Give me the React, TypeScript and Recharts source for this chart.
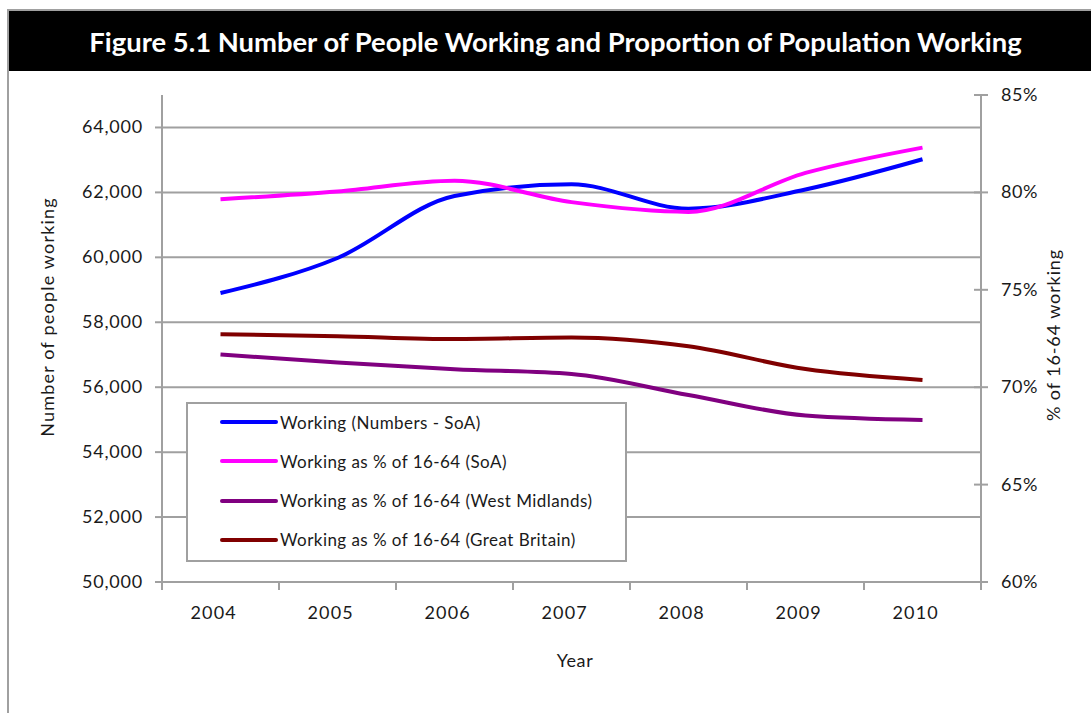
import React from 'react';
import { LineChart, Line, XAxis, YAxis, CartesianGrid, Legend } from 'recharts';

const years = [2004, 2005, 2006, 2007, 2008, 2009, 2010];
const workingNumbersSoA = [58900, 59980, 61890, 62250, 61500, 62090, 63020];
const workingPctSoA = [79.65, 80.05, 80.6, 79.5, 79.0, 81.0, 82.3];
const workingPctWestMidlands = [71.68, 71.27, 70.92, 70.68, 69.6, 68.55, 68.32];
const workingPctGreatBritain = [72.72, 72.62, 72.47, 72.55, 72.1, 70.93, 70.37];

const leftTicks = [50000, 52000, 54000, 56000, 58000, 60000, 62000, 64000];
const rightTicks = [60, 65, 70, 75, 80, 85];
const yearBoundaries = [2003.5, 2004.5, 2005.5, 2006.5, 2007.5, 2008.5, 2009.5, 2010.5];

const seriesNames = [
  'Working (Numbers - SoA)',
  'Working as % of 16-64 (SoA)',
  'Working as % of 16-64 (West Midlands)',
  'Working as % of 16-64 (Great Britain)',
];
const seriesColors = ['#0000FF', '#FF00FF', '#800080', '#800000'];

const data = years.map((year, i) => ({
  year,
  numbers: workingNumbersSoA[i],
  pctSoA: workingPctSoA[i],
  pctWM: workingPctWestMidlands[i],
  pctGB: workingPctGreatBritain[i],
}));

const W = 1091;
const H = 713;
const FONT = 'Lato, "Open Sans", sans-serif';
const TEXT = '#1a1a1a';
const AXIS = '#a0a0a0';
const PLOT_LEFT = 162;
const PLOT_RIGHT = 981;
const HALF_STEP = (PLOT_RIGHT - PLOT_LEFT) / yearBoundaries.length / 2 + 0.5;

const XTick = (props: any) => {
  const { x, y, payload } = props;
  const v = payload.value;
  if (v > 2010) return null;
  return (
    <text x={x + HALF_STEP} y={y + 27} textAnchor="middle" fontFamily={FONT} fontSize={18} letterSpacing={1.2} fill={TEXT}>
      {Math.round(v + 0.5)}
    </text>
  );
};

const LeftTick = (props: any) => {
  const { x, y, payload } = props;
  return (
    <text x={x} y={y + 6} textAnchor="end" fontFamily={FONT} fontSize={18} letterSpacing={0.8} fill={TEXT}>
      {Number(payload.value).toLocaleString('en-US')}
    </text>
  );
};

const RightTick = (props: any) => {
  const { x, y, payload } = props;
  return (
    <g>
      <line x1={x - 7} x2={x + 7} y1={y} y2={y} stroke={AXIS} strokeWidth={2} />
      <text x={x + 20} y={y + 6} textAnchor="start" fontFamily={FONT} fontSize={18} letterSpacing={0.6} fill={TEXT}>
        {payload.value}%
      </text>
    </g>
  );
};

const GridLine = (p: any) => {
  if (Math.abs(p.y1 - p.y) < 1) return <g key={p.key} />;
  return <line key={p.key} x1={p.x1} x2={p.x2} y1={p.y1} y2={p.y2} stroke={AXIS} strokeWidth={2} />;
};

const LegendContent = () => (
  <div
    style={{
      width: 441,
      height: 160,
      boxSizing: 'border-box',
      border: `2px solid ${AXIS}`,
      background: '#fff',
      position: 'relative',
    }}
  >
    {seriesNames.map((name, i) => (
      <div
        key={name}
        style={{
          position: 'absolute',
          left: 32,
          top: 18 + i * 39.3 - 12,
          height: 24,
          display: 'flex',
          alignItems: 'center',
          whiteSpace: 'nowrap',
        }}
      >
        <svg width={58} height={8} style={{ display: 'block' }}>
          <line x1={2} x2={56} y1={4} y2={4} stroke={seriesColors[i]} strokeWidth={4} strokeLinecap="round" />
        </svg>
        <span
          style={{
            marginLeft: 2,
            fontFamily: FONT,
            fontSize: 17,
            color: TEXT,
            letterSpacing: 0.45,
          }}
        >
          {name}
        </span>
      </div>
    ))}
  </div>
);

export default function App() {
  return (
    <div style={{ position: 'absolute', left: 0, top: 0, width: W, height: H, background: '#fff', overflow: 'hidden' }}>
      <div style={{ position: 'absolute', left: 0, top: 0 }}>
        <LineChart width={W} height={H} data={data} margin={{ top: 95, right: 30, bottom: 91, left: 62 }}>
          <CartesianGrid yAxisId="left" vertical={false} stroke={AXIS} strokeWidth={2} horizontal={GridLine} />
          <XAxis
            dataKey="year"
            type="number"
            domain={[2003.5, 2010.5]}
            ticks={yearBoundaries}
            height={40}
            axisLine={{ stroke: AXIS, strokeWidth: 2 }}
            tickLine={{ stroke: AXIS, strokeWidth: 2 }}
            tickSize={8}
            tickMargin={2}
            tick={<XTick />}
            interval={0}
            label={() => (
              <text x={575} y={667} textAnchor="middle" fontFamily={FONT} fontSize={18} letterSpacing={0.6} fill={TEXT}>
                Year
              </text>
            )}
          />
          <YAxis
            yAxisId="left"
            orientation="left"
            width={100}
            domain={[50000, 65000]}
            ticks={leftTicks}
            interval={0}
            axisLine={{ stroke: AXIS, strokeWidth: 2 }}
            tickLine={{ stroke: AXIS, strokeWidth: 2 }}
            tickSize={7}
            tickMargin={12}
            tick={<LeftTick />}
            label={() => (
              <text
                x={0}
                y={0}
                transform="translate(54, 317) rotate(-90)"
                textAnchor="middle"
                fontFamily={FONT}
                fontSize={18}
                letterSpacing={1.2}
                fill={TEXT}
              >
                Number of people working
              </text>
            )}
          />
          <YAxis
            yAxisId="right"
            orientation="right"
            width={80}
            domain={[60, 85]}
            ticks={rightTicks}
            interval={0}
            axisLine={{ stroke: AXIS, strokeWidth: 2 }}
            tickLine={false}
            tickSize={0}
            tickMargin={0}
            tick={<RightTick />}
            label={() => (
              <text
                x={0}
                y={0}
                transform="translate(1060, 335) rotate(-90)"
                textAnchor="middle"
                fontFamily={FONT}
                fontSize={18}
                letterSpacing={0.9}
                fill={TEXT}
              >
                % of 16-64 working
              </text>
            )}
          />
          <Legend
            layout="vertical"
            align="center"
            verticalAlign="middle"
            content={<LegendContent />}
            wrapperStyle={{ position: 'absolute', left: 186, top: 402, width: 441, height: 160 }}
          />
          <Line yAxisId="left" type="monotone" dataKey="numbers" name={seriesNames[0]} stroke={seriesColors[0]} strokeWidth={4} dot={false} isAnimationActive={false} />
          <Line yAxisId="right" type="monotone" dataKey="pctSoA" name={seriesNames[1]} stroke={seriesColors[1]} strokeWidth={4} dot={false} isAnimationActive={false} />
          <Line yAxisId="right" type="monotone" dataKey="pctWM" name={seriesNames[2]} stroke={seriesColors[2]} strokeWidth={4} dot={false} isAnimationActive={false} />
          <Line yAxisId="right" type="monotone" dataKey="pctGB" name={seriesNames[3]} stroke={seriesColors[3]} strokeWidth={4} dot={false} isAnimationActive={false} />
        </LineChart>
      </div>
      <div
        style={{
          position: 'absolute',
          left: 7,
          top: 9,
          width: W + 20,
          height: H + 20,
          borderLeft: `2px solid ${AXIS}`,
          borderTop: `2px solid ${AXIS}`,
          pointerEvents: 'none',
        }}
      />
      <div
        style={{
          position: 'absolute',
          left: 9,
          top: 11,
          width: W + 2,
          height: 60,
          background: '#000',
          color: '#fff',
          fontFamily: FONT,
          fontWeight: 700,
          fontSize: 27.4,
          display: 'flex',
          alignItems: 'center',
          justifyContent: 'center',
          whiteSpace: 'nowrap',
        }}
      >
        Figure 5.1 Number of People Working and Proportion of Population Working
      </div>
    </div>
  );
}
